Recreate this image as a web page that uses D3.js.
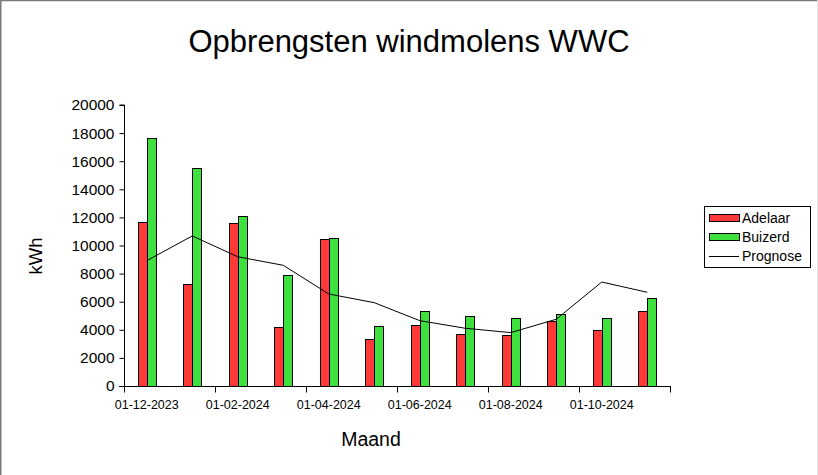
<!DOCTYPE html>
<html>
<head>
<meta charset="utf-8">
<script src="https://cdn.jsdelivr.net/npm/d3@7"></script>
<style>
html,body{margin:0;padding:0;background:#fff;}
svg{display:block;}
text{font-family:"Liberation Sans",Arial,sans-serif;fill:#000;}
</style>
</head>
<body>
<svg id="chart" width="818" height="475"></svg>
<script>
const months = ["2023-12","2024-01","2024-02","2024-03","2024-04","2024-05","2024-06","2024-07","2024-08","2024-09","2024-10","2024-11"];
const adelaar = [11700, 7250, 11600, 4180, 10450, 3330, 4330, 3730, 3610, 4630, 3970, 5340];
const buizerd = [17650, 15550, 12080, 7880, 10510, 4250, 5320, 4960, 4820, 5100, 4820, 6240];
const prognose = [8920, 10680, 9200, 8590, 6550, 5930, 4650, 4110, 3800, 4750, 7400, 6670];
const yTicks = [0, 2000, 4000, 6000, 8000, 10000, 12000, 14000, 16000, 18000, 20000];
const xTickLabels = ["01-12-2023", "01-02-2024", "01-04-2024", "01-06-2024", "01-08-2024", "01-10-2024"];
const seriesNames = ["Adelaar", "Buizerd", "Prognose"];
const colors = {Adelaar: "#ff3838", Buizerd: "#3ee03e"};

const svg = d3.select("#chart");

// frame
svg.append("line").attr("x1",0).attr("x2",818).attr("y1",0.5).attr("y2",0.5).attr("stroke","#7a7a7a").attr("stroke-width",1.5);
svg.append("line").attr("x1",0.75).attr("x2",0.75).attr("y1",0).attr("y2",475).attr("stroke","#7a7a7a").attr("stroke-width",1.5);
svg.append("line").attr("x1",817.5).attr("x2",817.5).attr("y1",0).attr("y2",475).attr("stroke","#e4e4e4").attr("stroke-width",1);

const pL = 124, pR = 670, pT = 105, pB = 386;

const x = d3.scaleBand().domain(months).range([pL, pR]).paddingInner(0).paddingOuter(0);
const y = d3.scaleLinear().domain([0, 20000]).range([pB, pT]);
const bw = x.bandwidth() * 0.2;

// title
svg.append("text").attr("x", 409).attr("y", 52).attr("text-anchor","middle")
  .style("font-size","31px").text("Opbrengsten windmolens WWC");

// bars
const g = svg.append("g");
g.selectAll("rect.a").data(months).enter().append("rect")
  .attr("x", d => Math.round(x(d) + x.bandwidth()/2 - bw) + 0.5)
  .attr("y", (d,i) => Math.round(y(adelaar[i])) + 0.5)
  .attr("width", Math.round(bw))
  .attr("height", (d,i) => Math.round(y(0)) - Math.round(y(adelaar[i])))
  .attr("fill", colors.Adelaar).attr("stroke","#000").attr("stroke-width",1);
g.selectAll("rect.b").data(months).enter().append("rect")
  .attr("x", d => Math.round(x(d) + x.bandwidth()/2) + 0.5)
  .attr("y", (d,i) => Math.round(y(buizerd[i])) + 0.5)
  .attr("width", Math.round(bw))
  .attr("height", (d,i) => Math.round(y(0)) - Math.round(y(buizerd[i])))
  .attr("fill", colors.Buizerd).attr("stroke","#000").attr("stroke-width",1);

// prognose line
const line = d3.line().x((d,i) => x(months[i]) + x.bandwidth()/2).y(d => y(d));
svg.append("path").datum(prognose).attr("d", line).attr("fill","none").attr("stroke","#000").attr("stroke-width",1);

// y axis
const yAxis = d3.axisLeft(y).tickValues(yTicks).tickSize(5).tickPadding(5).tickFormat(d3.format("d"));
const ya = svg.append("g").attr("transform", `translate(${pL + 0.5},0)`).call(yAxis);
ya.select(".domain").attr("d", `M-5,${pT}H0V${pB}`).attr("stroke","#000");
ya.selectAll("text").style("font-size","15.5px").attr("font-family", null);
ya.selectAll("line").attr("stroke","#000");

// x axis (ticks every two months at band boundaries)
const xa = svg.append("g").attr("transform", `translate(0,${pB + 0.5})`);
xa.append("line").attr("x1", pL - 5).attr("x2", pR + 1).attr("y1",0).attr("y2",0).attr("stroke","#000");
const tickMonths = months.filter((m,i) => i % 2 === 0);
const tickPos = tickMonths.map(m => x(m)).concat([pR]);
xa.selectAll("line.tk").data(tickPos).enter().append("line")
  .attr("x1", d => Math.round(d) + 0.5).attr("x2", d => Math.round(d) + 0.5)
  .attr("y1", 0).attr("y2", 6).attr("stroke","#000");
xa.selectAll("text.lb").data(xTickLabels).enter().append("text")
  .attr("x", (d,i) => x(tickMonths[i]) + x.bandwidth()/2)
  .attr("y", 22).attr("text-anchor","middle").style("font-size","12.5px").text(d => d);

// axis titles
svg.append("text").attr("transform","translate(42,256) rotate(-90)").attr("text-anchor","middle")
  .style("font-size","18.5px").text("kWh");
svg.append("text").attr("x", 371).attr("y", 446).attr("text-anchor","middle")
  .style("font-size","19.5px").text("Maand");

// legend
const lg = svg.append("g");
lg.append("rect").attr("x",704.5).attr("y",206.5).attr("width",106).attr("height",61)
  .attr("fill","#fff").attr("stroke","#000");
const rowsY = [218, 237, 256];
seriesNames.forEach((name, i) => {
  if (name === "Prognose") {
    lg.append("line").attr("x1",709).attr("x2",739).attr("y1",rowsY[i]+0.5).attr("y2",rowsY[i]+0.5).attr("stroke","#000");
  } else {
    lg.append("rect").attr("x",709.5).attr("y",rowsY[i]-3.5).attr("width",30).attr("height",7)
      .attr("fill", colors[name]).attr("stroke","#000");
  }
  lg.append("text").attr("x",742).attr("y",rowsY[i]+5).style("font-size","14px").text(name);
});
</script>
</body>
</html>
